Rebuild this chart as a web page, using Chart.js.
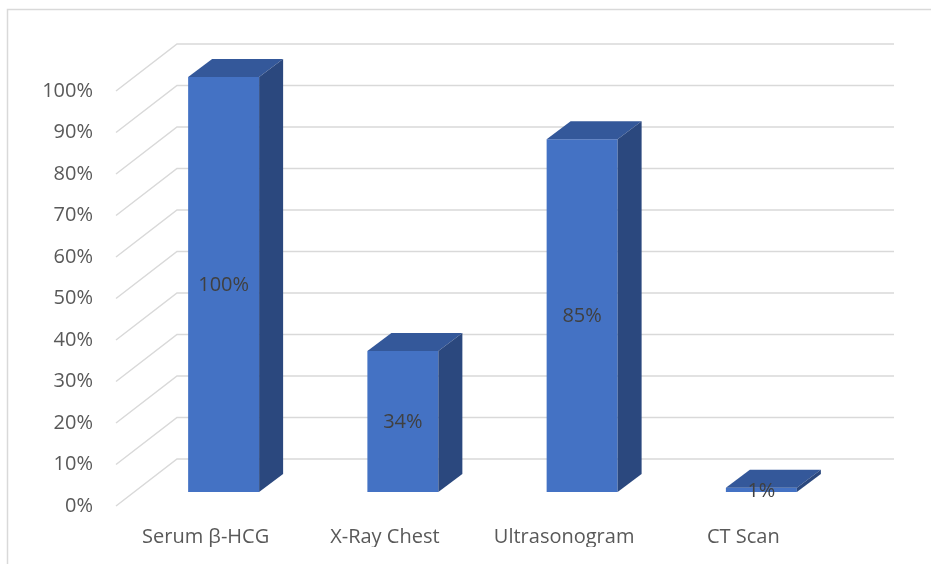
<!DOCTYPE html>
<html>
<head>
<meta charset="utf-8">
<title>Diagnostic tests</title>
<script src="https://cdn.jsdelivr.net/npm/chart.js@4.4.0/dist/chart.umd.min.js"></script>
<style>
  html, body { margin: 0; padding: 0; background: #fff; }
  #myChart { display: block; }
</style>
</head>
<body>
<canvas id="myChart" width="931" height="564"></canvas>
<script>
const ctx = document.getElementById('myChart');

// donnees
const categories = ['Serum β-HCG', 'X-Ray Chest', 'Ultrasonogram', 'CT Scan'];
const pourcentages = [100, 34, 85, 1];
const ticksY = [0, 10, 20, 30, 40, 50, 60, 70, 80, 90, 100];

// couleurs des faces des barres
const faceAvant = '#4472C4';
const faceDessus = '#34589A';
const faceCote = '#2B487E';
const couleurGrille = '#D9D9D9';

// decalages pour l'effet 3D (profondeur)
const profBarre = { dx: 24, dy: -18 };
const grilleAvant = { dx: -18, dy: 14 };
const grilleFond = { dx: 43, dy: -33 };

const effet3D = {
  id: 'effet3D',
  beforeDraw(chart) {
    const c = chart.ctx;
    // cadre gris autour du graphique
    c.save();
    c.strokeStyle = couleurGrille;
    c.lineWidth = 1.5;
    c.beginPath();
    c.moveTo(7.5, chart.height);
    c.lineTo(7.5, 9.5);
    c.lineTo(chart.width, 9.5);
    c.stroke();
    c.restore();
  },
  beforeDatasetsDraw(chart) {
    const c = chart.ctx;
    const area = chart.chartArea;
    const y = chart.scales.y;
    c.save();
    c.strokeStyle = couleurGrille;
    c.lineWidth = 1.5;
    ticksY.forEach(function (v) {
      const py = y.getPixelForValue(v);
      c.beginPath();
      c.moveTo(area.left + grilleAvant.dx, py + grilleAvant.dy);
      c.lineTo(area.left + grilleFond.dx, py + grilleFond.dy);
      c.lineTo(area.right + grilleFond.dx, py + grilleFond.dy);
      c.stroke();
    });
    c.restore();
  },
  afterDatasetsDraw(chart) {
    const c = chart.ctx;
    const meta = chart.getDatasetMeta(0);
    c.save();
    meta.data.forEach(function (bar, i) {
      const g = bar.x - bar.width / 2;
      const d = bar.x + bar.width / 2;
      const haut = bar.y;
      const bas = bar.base;
      // dessus
      c.fillStyle = faceDessus;
      c.beginPath();
      c.moveTo(g, haut);
      c.lineTo(g + profBarre.dx, haut + profBarre.dy);
      c.lineTo(d + profBarre.dx, haut + profBarre.dy);
      c.lineTo(d, haut);
      c.closePath();
      c.fill();
      // cote droit
      c.fillStyle = faceCote;
      c.beginPath();
      c.moveTo(d, haut);
      c.lineTo(d + profBarre.dx, haut + profBarre.dy);
      c.lineTo(d + profBarre.dx, bas + profBarre.dy);
      c.lineTo(d, bas);
      c.closePath();
      c.fill();
      // etiquette au milieu de la face avant
      c.fillStyle = '#404040';
      c.font = '20px "Open Sans"';
      c.textAlign = 'center';
      c.textBaseline = 'middle';
      c.fillText(pourcentages[i] + '%', bar.x, (haut + bas) / 2 + 1);
    });
    c.restore();
  }
};

new Chart(ctx, {
  type: 'bar',
  data: {
    labels: categories,
    datasets: [{
      label: 'Pourcentage',
      data: pourcentages,
      backgroundColor: faceAvant,
      borderWidth: 0,
      barPercentage: 0.396,
      categoryPercentage: 1
    }]
  },
  options: {
    responsive: false,
    animation: false,
    layout: { padding: { left: 42, right: 80, top: 77, bottom: 17 } },
    plugins: {
      legend: { display: false },
      tooltip: { enabled: false }
    },
    scales: {
      x: {
        afterFit(scale) { scale.height = 55; },
        grid: { display: false, drawTicks: false },
        border: { display: false },
        ticks: {
          padding: 33,
          labelOffset: -18,
          color: '#595959',
          font: { family: 'Open Sans', size: 20 }
        }
      },
      y: {
        min: 0,
        max: 100,
        afterFit(scale) { scale.width = 92; },
        grid: { display: false, drawTicks: false },
        border: { display: false },
        ticks: {
          stepSize: 10,
          padding: 41,
          labelOffset: 14,
          color: '#595959',
          font: { family: 'Open Sans', size: 20 },
          callback: function (v) { return v + '%'; }
        }
      }
    }
  },
  plugins: [effet3D]
});
</script>
</body>
</html>
